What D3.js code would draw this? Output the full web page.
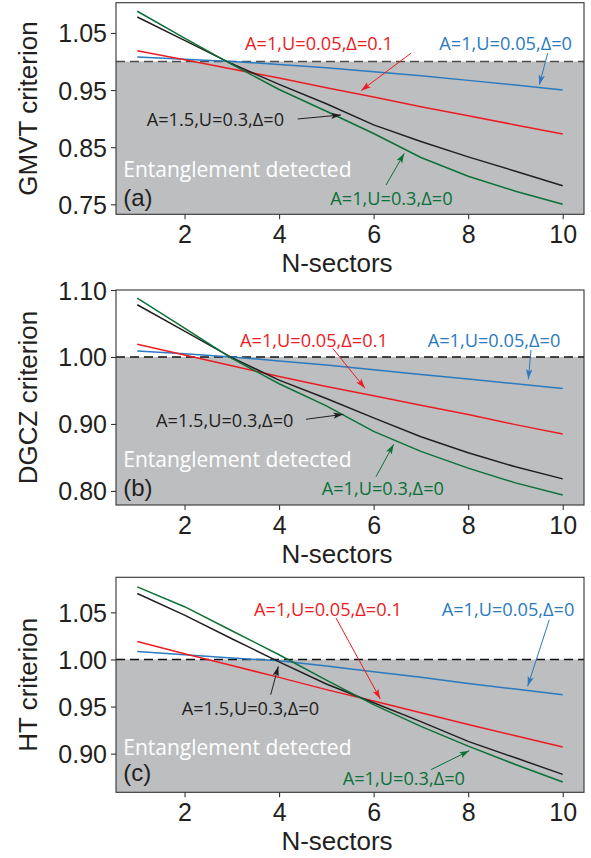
<!DOCTYPE html>
<html>
<head>
<meta charset="utf-8">
<script src="https://cdn.jsdelivr.net/npm/d3@7"></script>
<style>
  html, body { margin: 0; padding: 0; background: #fff; }
  svg { display: block; }
</style>
</head>
<body>
<svg id="chart" width="591" height="858"></svg>
<script>
// ---------------- DATA ----------------
const nSectors = [1, 2, 3, 4, 5, 6, 7, 8, 9, 10];
const xTicks = [2, 4, 6, 8, 10];

// (a) GMVT criterion
const gmvtBlue  = [1.008, 1.004, 1.000, 0.995, 0.989, 0.982, 0.975, 0.967, 0.959, 0.950];
const gmvtRed   = [1.019, 1.003, 0.987, 0.971, 0.954, 0.938, 0.921, 0.905, 0.889, 0.873];
const gmvtBlack = [1.078, 1.037, 0.996, 0.960, 0.926, 0.889, 0.860, 0.833, 0.808, 0.7825];
const gmvtGreen = [1.088, 1.041, 0.995, 0.951, 0.913, 0.874, 0.832, 0.799, 0.773, 0.750];
const gmvtTicks = [0.75, 0.85, 0.95, 1.05];

// (b) DGCZ criterion
const dgczBlue  = [1.009, 1.005, 1.000, 0.994, 0.988, 0.981, 0.974, 0.967, 0.960, 0.953];
const dgczRed   = [1.019, 1.003, 0.987, 0.971, 0.956, 0.942, 0.928, 0.914, 0.899, 0.885];
const dgczBlack = [1.078, 1.0385, 0.999, 0.9655, 0.938, 0.909, 0.881, 0.857, 0.836, 0.818];
const dgczGreen = [1.088, 1.043, 0.998, 0.960, 0.927, 0.889, 0.859, 0.834, 0.812, 0.794];
const dgczTicks = [0.80, 0.90, 1.00, 1.10];

// (c) HT criterion
const htBlue  = [1.0085, 1.005, 1.0016, 0.9986, 0.993, 0.987, 0.981, 0.9745, 0.9686, 0.9625];
const htRed   = [1.019, 1.006, 0.9935, 0.981, 0.968, 0.956, 0.9435, 0.931, 0.919, 0.907];
const htBlack = [1.070, 1.047, 1.022, 0.9975, 0.974, 0.954, 0.934, 0.913, 0.8956, 0.878];
const htGreen = [1.077, 1.056, 1.0305, 1.005, 0.978, 0.952, 0.929, 0.908, 0.8885, 0.870];
const htTicks = [0.90, 0.95, 1.00, 1.05];

const seriesLabels = ["A=1,U=0.05,\u0394=0", "A=1,U=0.05,\u0394=0.1", "A=1.5,U=0.3,\u0394=0", "A=1,U=0.3,\u0394=0"];
const yLabels = ["GMVT criterion", "DGCZ criterion", "HT criterion"];
const panelTags = ["(a)", "(b)", "(c)"];
const xLabel = "N-sectors";
const regionLabel = "Entanglement detected";

// ---------------- STYLE ----------------
const colors = ["#2a7abf", "#ec1c24", "#231f20", "#0b7139"];
const grayFill = "#bcbec0";
const axisColor = "#333333";
const textColor = "#231f20";
const tickFont = "'Liberation Sans', Arial, Helvetica, sans-serif";
const annFont = "'Open Sans', 'Noto Sans', sans-serif";

// annotation placement (data coordinates): [textN, textV, arrowFromN, arrowFromV, arrowToN, arrowToV]
const annA = [
  [7.389, 1.0202, 9.682, 1.0145, 9.504, 0.959],
  [3.279, 1.0202, 6.790, 1.0145, 5.733, 0.949],
  [1.199, 0.8876, 4.394, 0.8994, 5.310, 0.9064],
  [5.083, 0.7488, 6.262, 0.7838, 6.649, 0.8393]
];
const annB = [
  [7.144, 1.0153, 9.329, 1.0104, 9.272, 0.9667],
  [3.173, 1.0153, 5.134, 1.0130, 5.817, 0.9532],
  [1.396, 0.8959, 4.569, 0.9070, 5.358, 0.9144],
  [4.901, 0.7939, 6.050, 0.8213, 6.424, 0.8697]
];
const annC = [
  [7.440, 1.0458, 9.716, 1.0422, 9.259, 0.9715],
  [3.469, 1.0458, 5.204, 1.0440, 6.141, 0.9580],
  [1.940, 0.9414, 3.823, 0.9626, 3.983, 0.9927],
  [5.346, 0.8671, 7.213, 0.8830, 8.024, 0.9032]
];

const panels = [
  { series: [gmvtBlue, gmvtRed, gmvtBlack, gmvtGreen], ticks: gmvtTicks, yDomain: [0.7325, 1.103],
    top: 2.7, bottom: 214.3, ann: annA, regionV: 0.7983, tagV: 0.747, dashColor: "#4d4d4d" },
  { series: [dgczBlue, dgczRed, dgczBlack, dgczGreen], ticks: dgczTicks, yDomain: [0.779, 1.10],
    top: 290, bottom: 505, ann: annB, regionV: 0.8362, tagV: 0.7924, dashColor: "#111" },
  { series: [htBlue, htRed, htBlack, htGreen], ticks: htTicks, yDomain: [0.859, 1.0872],
    top: 577.3, bottom: 792.3, ann: annC, regionV: 0.8989, tagV: 0.8705, dashColor: "#111" }
];

const frameLeft = 116, frameRight = 584;
const x = d3.scaleLinear().domain([0.55, 10.45]).range([frameLeft, frameRight]);

const svg = d3.select("#chart");
const defs = svg.append("defs");
colors.forEach((c, i) => {
  defs.append("marker")
    .attr("id", "arrow" + i)
    .attr("markerUnits", "userSpaceOnUse")
    .attr("markerWidth", 11).attr("markerHeight", 8)
    .attr("refX", 10).attr("refY", 4)
    .attr("orient", "auto")
    .append("path")
    .attr("d", "M0,0.8 L10,4 L0,7.2 L2.2,4 Z")
    .attr("fill", c);
});

panels.forEach((p, pi) => {
  const y = d3.scaleLinear().domain(p.yDomain).range([p.bottom, p.top]);
  const g = svg.append("g");

  // entanglement region (below 1.0)
  g.append("rect")
    .attr("x", frameLeft).attr("width", frameRight - frameLeft)
    .attr("y", y(1.0)).attr("height", p.bottom - y(1.0))
    .attr("fill", grayFill);

  // dashed threshold
  g.append("line")
    .attr("x1", frameLeft).attr("x2", frameRight)
    .attr("y1", y(1.0)).attr("y2", y(1.0))
    .attr("stroke", p.dashColor).attr("stroke-width", 1.6)
    .attr("stroke-dasharray", "9,5");

  // region text
  g.append("text")
    .attr("x", x(0.704)).attr("y", y(p.regionV))
    .attr("font-family", annFont).attr("font-size", 21)
    .attr("fill", "#ffffff").text(regionLabel);

  // panel tag
  g.append("text")
    .attr("x", x(0.704)).attr("y", y(p.tagV))
    .attr("font-family", tickFont).attr("font-size", 24)
    .attr("fill", textColor).text(panelTags[pi]);

  // curves
  const line = d3.line().x((d, i) => x(nSectors[i])).y(d => y(d));
  p.series.forEach((s, si) => {
    g.append("path").datum(s)
      .attr("d", line)
      .attr("fill", "none")
      .attr("stroke", colors[si])
      .attr("stroke-width", 1.5);
  });

  // annotations
  p.ann.forEach((a, si) => {
    g.append("text")
      .attr("x", x(a[0])).attr("y", y(a[1]))
      .attr("font-family", annFont).attr("font-size", 18.2)
      .attr("fill", colors[si]).text(seriesLabels[si]);
    g.append("line")
      .attr("x1", x(a[2])).attr("y1", y(a[3]))
      .attr("x2", x(a[4])).attr("y2", y(a[5]))
      .attr("stroke", colors[si]).attr("stroke-width", 1)
      .attr("marker-end", "url(#arrow" + si + ")");
  });

  // frame
  g.append("rect")
    .attr("x", frameLeft).attr("y", p.top)
    .attr("width", frameRight - frameLeft).attr("height", p.bottom - p.top)
    .attr("fill", "none").attr("stroke", axisColor).attr("stroke-width", 1.1);

  // axes
  const xAxis = d3.axisBottom(x).tickValues(xTicks).tickSize(5).tickPadding(4).tickFormat(d3.format("d"));
  const gx = g.append("g").attr("transform", `translate(0,${p.bottom})`).call(xAxis);
  const yAxis = d3.axisLeft(y).tickValues(p.ticks).tickSize(5).tickPadding(4).tickFormat(d3.format(".2f"));
  const gy = g.append("g").attr("transform", `translate(${frameLeft},0)`).call(yAxis);
  [gx, gy].forEach(ax => {
    ax.select(".domain").remove();
    ax.selectAll(".tick line").attr("stroke", axisColor).attr("stroke-width", 1.1);
    ax.selectAll(".tick text")
      .attr("font-family", tickFont).attr("font-size", 25).attr("fill", textColor);
  });
  gx.selectAll(".tick text").attr("dy", null).attr("y", 28.5);
  gy.selectAll(".tick text").attr("dy", "0.36em").attr("x", -9);

  // axis labels
  g.append("text")
    .attr("x", 337).attr("y", p.bottom + 58)
    .attr("text-anchor", "middle")
    .attr("font-family", tickFont).attr("font-size", 26)
    .attr("fill", textColor).text(xLabel);
  const cy = (p.top + p.bottom) / 2;
  g.append("text")
    .attr("transform", `translate(37,${cy}) rotate(-90)`)
    .attr("text-anchor", "middle")
    .attr("font-family", tickFont).attr("font-size", 26)
    .attr("fill", textColor).text(yLabels[pi]);
});
</script>
</body>
</html>
